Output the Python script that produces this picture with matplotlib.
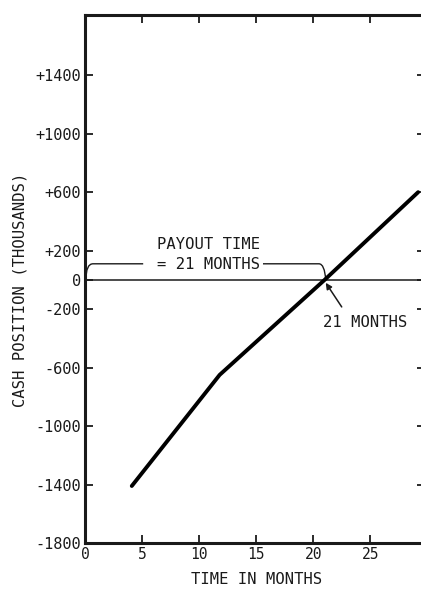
import matplotlib
matplotlib.use("Agg")
import matplotlib.pyplot as plt
from matplotlib.path import Path
from matplotlib.patches import PathPatch

# Cash position curve (months, thousands)
months = [4.1, 11.8, 21.0, 29.2]
cash = [-1410, -650, 0, 600]

y_ticks = [1400, 1000, 600, 200, 0, -200, -600, -1000, -1400, -1800]
y_labels = ["+1400", "+1000", "+600", "+200", "0", "-200", "-600", "-1000", "-1400", "-1800"]
x_ticks = [0, 5, 10, 15, 20, 25]
x_labels = ["0", "5", "10", "15", "20", "25"]

payout_month = 21
bracket_level = 110

plt.rcParams['font.family'] = ['DejaVu Sans Mono', 'DejaVu Sans']
ink = "#1a1a1a"
fs = 11.2

fig = plt.figure(figsize=(4.21, 5.90), dpi=100)
# axes runs a little past the right edge of the figure
ax = fig.add_axes([85 / 421, 1 - 543 / 590, 340 / 421, 528 / 590])
ax.set_xlim(0, 29.8)
ax.set_ylim(-1800, 1812)

for side in ax.spines.values():
    side.set_linewidth(2.2)
    side.set_color(ink)

ax.set_yticks(y_ticks)
ax.set_yticklabels(y_labels)
ax.set_xticks(x_ticks)
ax.set_xticklabels(x_labels)
ax.tick_params(direction="in", length=6, width=1.3, color=ink,
               top=True, right=True, labelcolor=ink, pad=3)
ax.tick_params(axis="y", labelsize=11)
ax.tick_params(axis="x", labelsize=10.5)

# zero line
ax.axhline(0, color=ink, lw=1.1)

# cash position line
ax.plot(months, cash, color="black", lw=2.8, solid_capstyle="round",
        solid_joinstyle="round")

# payout bracket
left = Path([(0.08, 0), (0.08, bracket_level), (0.7, bracket_level),
             (5.1, bracket_level)],
            [Path.MOVETO, Path.CURVE3, Path.CURVE3, Path.LINETO])
right = Path([(15.6, bracket_level), (20.5, bracket_level),
              (21.0, bracket_level), (21.1, 0)],
             [Path.MOVETO, Path.LINETO, Path.CURVE3, Path.CURVE3])
for p in (left, right):
    ax.add_patch(PathPatch(p, fill=False, lw=1.0, color=ink))

ax.text(6.35, 245, "PAYOUT TIME", fontsize=fs, color=ink, ha="left", va="center")
ax.text(6.35, 105, "= %d MONTHS" % payout_month, fontsize=fs, color=ink,
        ha="left", va="center")

ax.annotate("%d MONTHS" % payout_month, xy=(21.1, -20), xytext=(20.9, -290),
            fontsize=fs, color=ink, ha="left", va="center")
ax.annotate("", xy=(21.1, -20), xytext=(22.5, -185),
            arrowprops=dict(arrowstyle="-|>", color=ink, lw=1.1,
                            mutation_scale=9, shrinkA=0, shrinkB=0))

fig.text(20 / 421, 1 - 290 / 590, "CASH POSITION (THOUSANDS)", rotation=90,
         fontsize=fs, color=ink, ha="center", va="center")
fig.text(257 / 421, 1 - 580 / 590, "TIME IN MONTHS", fontsize=fs, color=ink,
         ha="center", va="center")

fig.savefig("out.png", dpi=100)
